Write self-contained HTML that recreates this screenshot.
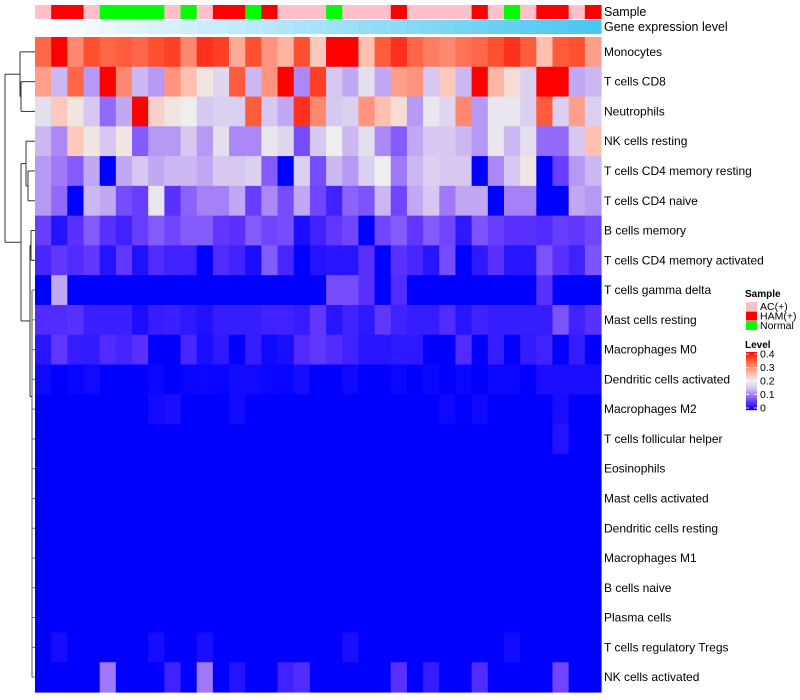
<!DOCTYPE html>
<html><head><meta charset="utf-8">
<style>
html,body{margin:0;padding:0;background:#fff;}
svg{display:block;font-family:"Liberation Sans",Arial,sans-serif;}
</style></head>
<body>
<svg id="chart" width="800" height="700" viewBox="0 0 800 700" xmlns="http://www.w3.org/2000/svg">
<g id="dendro" stroke="#333" stroke-width="1" fill="none"></g>
<g id="annot"></g>
<g id="cells"></g>
<g id="labels" font-size="12" fill="#000" style="white-space:pre"></g>
<text x="604" y="16" font-size="12.5">Sample</text>
<text x="604" y="31" font-size="12.5">Gene expression level</text>
<g id="legend"></g>
</svg>
<script>
const rowNames = ["Monocytes","T cells CD8","Neutrophils","NK cells resting","T cells CD4 memory resting","T cells CD4 naive","B cells memory","T cells CD4 memory activated","T cells gamma delta","Mast cells resting","Macrophages M0","Dendritic cells activated","Macrophages M2","T cells follicular helper","Eosinophils","Mast cells activated","Dendritic cells resting","Macrophages M1","B cells naive","Plasma cells","T cells regulatory  Tregs","NK cells activated"];
const sampleGroups = ["AC","HAM","HAM","AC","N","N","N","N","AC","N","AC","HAM","HAM","N","HAM","AC","AC","AC","N","AC","AC","AC","HAM","AC","AC","AC","AC","HAM","AC","N","AC","HAM","HAM","AC","HAM"];
const geneLevel = [0,0.03,0.06,0.09,0.12,0.15,0.18,0.21,0.24,0.27,0.3,0.32,0.35,0.38,0.41,0.44,0.47,0.5,0.53,0.56,0.59,0.62,0.65,0.68,0.71,0.74,0.76,0.79,0.82,0.85,0.88,0.91,0.94,0.97,1];
const r0 = [0.33,0.4,0.3,0.35,0.33,0.34,0.33,0.35,0.36,0.3,0.37,0.36,0.27,0.35,0.29,0.26,0.35,0.24,0.4,0.4,0.25,0.34,0.37,0.33,0.31,0.3,0.32,0.33,0.35,0.37,0.34,0.25,0.34,0.35,0.28];
const r1 = [0.28,0.14,0.33,0.12,0.4,0.3,0.14,0.12,0.29,0.25,0.21,0.17,0.34,0.14,0.29,0.4,0.11,0.36,0.15,0.13,0.18,0.13,0.28,0.29,0.15,0.24,0.14,0.4,0.26,0.22,0.16,0.4,0.4,0.13,0.14];
const r2 = [0.18,0.24,0.21,0.15,0.09,0.13,0.4,0.23,0.21,0.2,0.15,0.16,0.16,0.34,0.15,0.13,0.37,0.3,0.15,0.16,0.29,0.25,0.22,0.12,0.19,0.17,0.3,0.12,0.19,0.19,0.16,0.34,0.16,0.28,0.16];
const r3 = [0.14,0.11,0.24,0.21,0.15,0.21,0.08,0.12,0.12,0.15,0.12,0.18,0.11,0.11,0.19,0.17,0.07,0.15,0.2,0.14,0.18,0.11,0.08,0.13,0.15,0.15,0.14,0.12,0.19,0.14,0.18,0.09,0.09,0.15,0.25];
const r4 = [0.12,0.1,0.08,0.13,0,0.13,0.15,0.13,0.14,0.14,0.13,0.15,0.15,0.16,0.08,0,0.16,0.07,0.14,0.12,0.16,0.2,0.1,0.14,0.16,0.15,0.15,0,0.11,0.15,0.21,0,0.06,0.12,0.14];
const r5 = [0.12,0.09,0,0.14,0.13,0.07,0.06,0.19,0.05,0.085,0.105,0.105,0.13,0.06,0.11,0.07,0.13,0.065,0.035,0.085,0.075,0.14,0.065,0.13,0.15,0.1,0.13,0.13,0,0.105,0.105,0,0,0.13,0.12];
const r6 = [0.06,0.02,0.05,0.08,0.05,0.035,0.06,0.08,0.065,0.08,0.08,0.055,0.05,0.08,0.065,0.07,0.015,0.035,0.055,0.065,0,0.065,0.08,0.055,0.08,0.065,0.025,0.075,0.06,0.05,0.05,0.045,0.06,0.055,0.065];
const r7 = [0.04,0.055,0.045,0.055,0.02,0.055,0.018,0.045,0.035,0.035,0,0.045,0.035,0.015,0.08,0.04,0,0.02,0.022,0.022,0.05,0,0.05,0.04,0.022,0.07,0,0.025,0.05,0.022,0.022,0.075,0.05,0.035,0.075];
const r8 = [0,0.13,0,0,0,0,0,0,0,0,0,0,0,0,0,0,0,0,0.07,0.07,0.05,0,0.045,0,0,0,0,0,0,0,0,0.05,0,0,0];
const r9 = [0.045,0.045,0.05,0.032,0.032,0.032,0.015,0.03,0.032,0.025,0.018,0.03,0.03,0.03,0.035,0.035,0.03,0.055,0.022,0.035,0.025,0.055,0.035,0.03,0.03,0.045,0.022,0.035,0.03,0.03,0.03,0.03,0.075,0.035,0.05];
const r10 = [0.022,0.055,0.03,0.028,0.045,0.038,0.05,0,0,0.04,0.015,0.025,0,0.03,0.008,0.015,0.045,0.055,0.045,0.035,0.022,0.022,0.025,0.025,0,0,0.045,0,0.03,0,0.028,0.035,0,0.03,0];
const r11 = [0.008,0,0.004,0.01,0,0,0,0.006,0,0.004,0.006,0.004,0.01,0.01,0.006,0.004,0.012,0,0,0.008,0,0,0.006,0,0.006,0,0.006,0,0.006,0.006,0,0.015,0.015,0.015,0.015];
const r12 = [0,0,0,0,0,0,0,0.01,0.015,0,0,0,0.01,0,0,0,0,0,0,0,0,0,0,0,0,0.008,0,0.008,0,0,0,0,0.015,0,0];
const r13 = [0,0,0,0,0,0,0,0,0,0,0,0,0,0,0,0,0,0,0,0,0,0,0,0,0,0,0,0,0,0,0,0,0.02,0,0];
const r14 = [0,0,0,0,0,0,0,0,0,0,0,0,0,0,0,0,0,0,0,0,0,0,0,0,0,0,0,0,0,0,0,0,0,0,0];
const r15 = r14.slice();
const r16 = r14.slice();
const r17 = r14.slice();
const r18 = r14.slice();
const r19 = r14.slice();
const r20 = [0,0.012,0,0,0,0,0,0.012,0,0,0.015,0,0,0,0,0,0,0,0,0.015,0,0,0,0,0,0,0,0,0,0.01,0,0,0,0,0];
const r21 = [0,0,0,0,0.1,0,0,0,0.035,0,0.1,0,0.02,0,0,0.035,0.045,0,0,0,0,0,0.05,0,0.03,0,0,0.045,0,0,0,0,0.065,0,0];
const values = [r0,r1,r2,r3,r4,r5,r6,r7,r8,r9,r10,r11,r12,r13,r14,r15,r16,r17,r18,r19,r20,r21];
const legendTicks = ["0.4","0.3","0.2","0.1","0"];
const groupNames = {AC:"AC(+)",HAM:"HAM(+)",N:"Normal"};

const NS="http://www.w3.org/2000/svg";
const X0=35, X1=601, Y0=37, Y1=692;
const nC=sampleGroups.length, nR=rowNames.length;
const cw=(X1-X0)/nC, rh=(Y1-Y0)/nR;
const xPos=i=>X0+i*cw;
const yPos=r=>Y0+r*rh;
const stops=[[0,[0,0,255]],[0.05,[90,48,255]],[0.1,[160,120,248]],[0.15,[214,200,240]],[0.2,[238,238,238]],[0.25,[255,192,176]],[0.3,[255,136,112]],[0.35,[255,80,48]],[0.4,[255,0,0]]];
function color(v){
  v=Math.max(0,Math.min(0.4,v));
  for(let i=1;i<stops.length;i++){
    if(v<=stops[i][0]){const a=stops[i-1],b=stops[i];const t=(v-a[0])/(b[0]-a[0]);
      const c=a[1].map((x,k)=>Math.round(x+(b[1][k]-x)*t));return `rgb(${c})`;}
  }
  return "rgb(255,0,0)";
}
const groupColor={AC:"#FFC0CB",HAM:"#FF0000",N:"#00FF00"};
function mk(tag,attrs,parent){const e=document.createElementNS(NS,tag);for(const k in attrs)e.setAttribute(k,attrs[k]);parent.appendChild(e);return e;}

const cells=document.getElementById('cells');
values.forEach((row,r)=>row.forEach((v,c)=>{
  const e=mk('rect',{x:xPos(c),y:yPos(r),width:cw+0.6,height:rh+0.6,fill:color(v)},cells);
  
  
}));
const annot=document.getElementById('annot');
sampleGroups.forEach((g,c)=>{
  const e=mk('rect',{x:xPos(c),y:5,width:cw+0.6,height:14,fill:groupColor[g]},annot);
  
  
});
geneLevel.forEach((v,c)=>{
  const r=Math.round(255+(76-255)*v),g=Math.round(255+(198-255)*v),b=Math.round(255+(242-255)*v);
  const e=mk('rect',{x:xPos(c),y:20,width:cw+0.6,height:14,fill:`rgb(${r},${g},${b})`},annot);
  
  
});
const labels=document.getElementById('labels');
rowNames.forEach((n,r)=>{
  const t=mk('text',{x:604,y:yPos(r)+rh/2+4},labels);
  t.textContent=n;
  
  
});
// dendrogram
const d=document.getElementById('dendro');
const yc=r=>yPos(r)+rh/2;
function seg(x1,y1,x2,y2,col){const e=mk('line',{x1,y1,x2,y2},d);if(col)e.setAttribute('stroke',col);}
const nodeA=(yc(1)+yc(2))/2;
seg(21,yc(1),35,yc(1));seg(21,yc(2),35,yc(2));seg(21,yc(1),21,yc(2));
seg(20,yc(0),35,yc(0));seg(20,nodeA,21,nodeA);seg(20,yc(0),20,nodeA);
const topC=(yc(0)+nodeA)/2;
const nodeB=(yc(4)+yc(5))/2;
seg(28,yc(4),35,yc(4));seg(28,yc(5),35,yc(5));seg(28,yc(4),28,yc(5));
seg(26,yc(3),35,yc(3));seg(26,nodeB,28,nodeB);seg(26,yc(3),26,nodeB);
const nodeC=(yc(3)+nodeB)/2;
const nodeD=(yc(6)+yc(7))/2;
seg(31,yc(6),35,yc(6));seg(31,yc(7),35,yc(7));seg(31,yc(6),31,yc(7));
for(let r=8;r<nR;r++) seg(32,yc(r),35,yc(r),'#777');
seg(32,yc(8),32,yc(nR-1),'#555');
const nodeE=(yc(8)+yc(nR-1))/2*0.55+yc(8)*0.45;
seg(30,nodeD,31,nodeD);seg(30,nodeE,32,nodeE);seg(30,nodeD,30,nodeE);
const nodeF=(nodeD+nodeE)/2;
seg(21,nodeC,26,nodeC);seg(21,nodeF,30,nodeF);seg(21,nodeC,21,nodeF);
const botC=(nodeC+nodeF)/2;
seg(5,topC,20,topC);seg(5,botC,21,botC);seg(5,topC,5,botC);
// legend
const lg=document.getElementById('legend');
let t=mk('text',{x:745,y:297,'font-size':10,'font-weight':'bold'},lg);t.textContent='Sample';


["AC","HAM","N"].forEach((g,i)=>{
  const r=mk('rect',{x:746,y:302+i*9.5,width:11,height:9,fill:groupColor[g]},lg);
  
  
  const tx=mk('text',{x:760,y:310+i*9.5,'font-size':10.5},lg);tx.textContent=groupNames[g];
  
  
});
t=mk('text',{x:745,y:348,'font-size':10,'font-weight':'bold'},lg);t.textContent='Level';


const cbTop=352,cbBot=410;
for(let i=0;i<58;i++){
  const v=0.4*(1-(i+0.5)/58);
  const r=mk('rect',{x:746,y:cbTop+i,width:11,height:1.2,fill:color(v)},lg);
  
  
}
legendTicks.forEach((s,i)=>{
  const v=parseFloat(s);
  const y=cbBot-(cbBot-cbTop-4)*v/0.4-2;
  mk('line',{x1:746,y1:y,x2:749,y2:y,stroke:'#fff','stroke-width':0.8},lg);
  mk('line',{x1:754,y1:y,x2:757,y2:y,stroke:'#fff','stroke-width':0.8},lg);
  const tx=mk('text',{x:760,y:y+3.5,'font-size':10.5},lg);tx.textContent=s;
  
  
});
</script>
</body></html>
